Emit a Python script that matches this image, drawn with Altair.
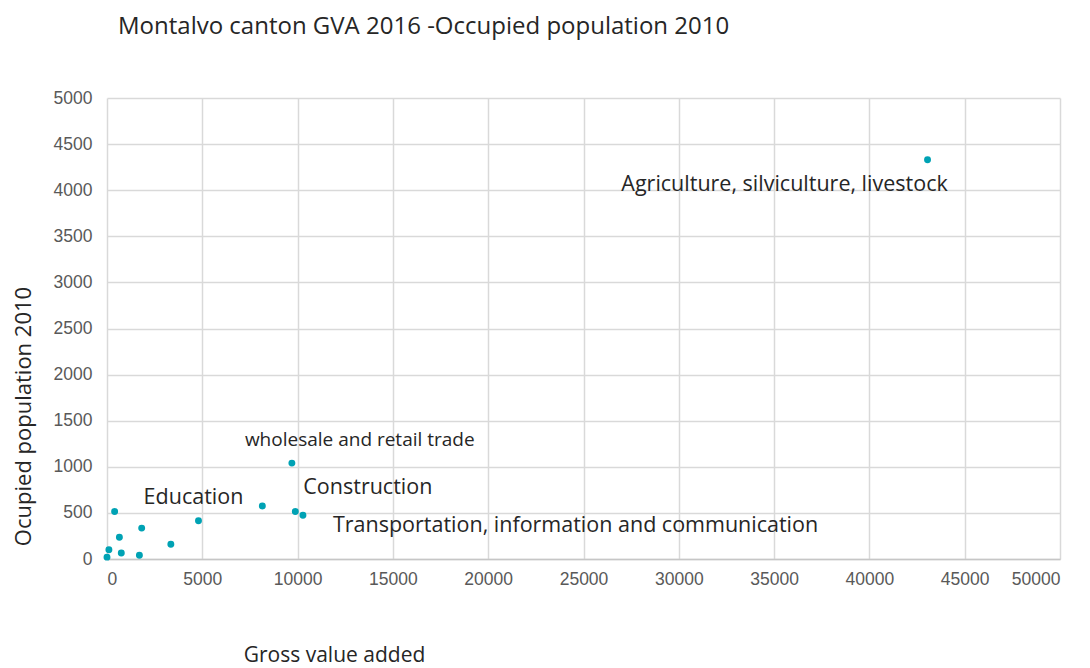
import altair as alt
import pandas as pd

# Data
gva = [0, 100, 400, 650, 750, 1700, 1820, 3350, 4800, 8150, 9700, 9880, 10280, 43050]
pop = [20, 100, 515, 235, 65, 40, 335, 160, 415, 575, 1040, 515, 475, 4330]
sector = ["", "", "", "", "", "", "", "", "Education", "",
          "wholesale and retail trade", "Construction",
          "Transportation, information and communication",
          "Agriculture, silviculture, livestock"]

x_ticks = [0, 5000, 10000, 15000, 20000, 25000, 30000, 35000, 40000, 45000, 50000]
y_ticks = [0, 500, 1000, 1500, 2000, 2500, 3000, 3500, 4000, 4500, 5000]

df = pd.DataFrame({"gva": gva, "pop": pop, "sector": sector})

W, H = 953, 461
FONT = "Open Sans"

xscale = alt.Scale(domain=[0, 50000], nice=False, zero=True)
yscale = alt.Scale(domain=[0, 5000], nice=False, zero=True)

base = alt.Chart(df)

points = base.mark_circle(size=48, color="#00a2b4", opacity=1).encode(
    x=alt.X("gva:Q", scale=xscale,
            axis=alt.Axis(values=x_ticks, format="d", title="Gross value added", grid=True,
                          gridColor="#d9d9d9", gridWidth=1.5, ticks=False,
                          domainColor="#c6c6c6", domainWidth=1.5,
                          labelFont="Liberation Sans", labelFontSize=17.5,
                          labelColor="#595959", labelPadding=11,
                          titleFont=FONT, titleFontSize=21, titleFontWeight="normal",
                          titleColor="#262626", titleX=227, titleY=96,
                          titleAlign="center", titleBaseline="middle")),
    y=alt.Y("pop:Q", scale=yscale,
            axis=alt.Axis(values=y_ticks, format="d", title="Ocupied population 2010", grid=True,
                          gridColor="#d9d9d9", gridWidth=1.5, ticks=False,
                          domain=False,
                          labelFont="Liberation Sans", labelFontSize=17.5,
                          labelColor="#595959", labelPadding=15,
                          titleFont=FONT, titleFontSize=22, titleFontWeight="normal",
                          titleColor="#262626", titleX=-84, titleY=318,
                          titleAngle=270, titleAlign="center", titleBaseline="middle")),
)

def label(name, dx, dy, size, align="left"):
    return base.transform_filter(alt.datum.sector == name).mark_text(
        align=align, baseline="middle", dx=dx, dy=dy, font=FONT,
        fontSize=size, color="#262626"
    ).encode(x=alt.X("gva:Q", scale=xscale), y=alt.Y("pop:Q", scale=yscale),
             text="sector:N")

labels = [
    label("Agriculture, silviculture, livestock", -143, 25, 21.5, "center"),
    label("wholesale and retail trade", -47, -23, 19),
    label("Construction", 8, -24, 21.5),
    label("Education", -5, -23, 21.5, "center"),
    label("Transportation, information and communication", 30, 11, 21.5),
]

chart = alt.layer(points, *labels).properties(
    width=W, height=H,
    title=alt.TitleParams("Montalvo canton GVA 2016 -Occupied population 2010",
                          anchor="start", frame="group", dx=11, offset=50, font=FONT,
                          fontSize=24, fontWeight="normal", color="#262626"),
    autosize=alt.AutoSizeParams(type="none"),
    padding={"left": 99, "top": 90, "right": 20, "bottom": 109},
).configure_view(stroke=None)

chart.save("out.html", embed_options={"renderer": "svg", "actions": False})
